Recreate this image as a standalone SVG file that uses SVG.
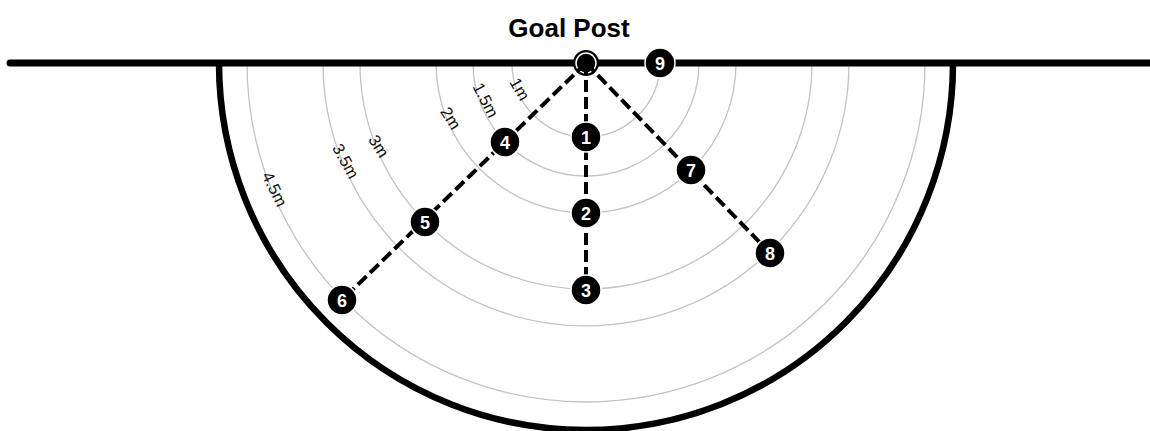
<svg xmlns="http://www.w3.org/2000/svg" width="1150" height="431" viewBox="0 0 1150 431">
<style>
.ring{fill:none;stroke:#c3c3c3;stroke-width:1.3}
.dist{font-family:"Liberation Sans",Arial,sans-serif;font-size:16.5px;fill:#111;text-anchor:middle;dominant-baseline:central}
.conn{fill:none;stroke:#000;stroke-width:4;stroke-dasharray:12 5}
.node circle{fill:#000;stroke:#fff;stroke-width:1.5}
.node text{font-family:"Liberation Sans",Arial,sans-serif;font-weight:bold;font-size:18px;fill:#fff;text-anchor:middle}
</style>
<rect width="1150" height="431" fill="#fff"/>
<g id="rings">
<path class="ring" d="M512 63 A74 74 0 0 0 660 63"/>
<path class="ring" d="M473 63 A113 113 0 0 0 699 63"/>
<path class="ring" d="M436 63 A150 150 0 0 0 736 63"/>
<path class="ring" d="M360 63 A226 226 0 0 0 812 63"/>
<path class="ring" d="M323 63 A263 263 0 0 0 849 63"/>
<path class="ring" d="M247 63 A339 339 0 0 0 925 63"/>
</g>
<g id="labels">
<text class="dist" transform="translate(520,89) rotate(60)">1m</text>
<text class="dist" transform="translate(486,100) rotate(63)">1.5m</text>
<text class="dist" transform="translate(451,118) rotate(58)">2m</text>
<text class="dist" transform="translate(379,146) rotate(58)">3m</text>
<text class="dist" transform="translate(346,161) rotate(61)">3.5m</text>
<text class="dist" transform="translate(275,189) rotate(64)">4.5m</text>
</g>
<g id="field">
<path d="M219 63 A367 367 0 0 0 953 63" fill="none" stroke="#000" stroke-width="6.5"/>
<line x1="10" y1="63" x2="1160" y2="63" stroke="#000" stroke-width="7" stroke-linecap="round"/>
</g>
<g id="goal-post">
<text x="569" y="37" font-family="'Liberation Sans',Arial,sans-serif" font-weight="bold" font-size="26" text-anchor="middle" fill="#000">Goal Post</text>
<circle cx="586" cy="63" r="13" fill="#000"/>
<circle cx="586" cy="63" r="10" fill="#000" stroke="#fff" stroke-width="1.5"/>
</g>
<g id="connectors">
<line class="conn" x1="586" y1="63" x2="342" y2="300"/>
<line class="conn" x1="586" y1="63" x2="586" y2="290"/>
<line class="conn" x1="586" y1="63" x2="770" y2="253"/>
</g>
<g id="node-1" class="node"><circle cx="586" cy="137" r="15"/><text x="586" y="143.5">1</text></g>
<g id="node-2" class="node"><circle cx="586" cy="213" r="15"/><text x="586" y="219.5">2</text></g>
<g id="node-3" class="node"><circle cx="586" cy="290" r="15"/><text x="586" y="296.5">3</text></g>
<g id="node-4" class="node"><circle cx="505" cy="142" r="15"/><text x="505" y="148.5">4</text></g>
<g id="node-5" class="node"><circle cx="425" cy="222" r="15"/><text x="425" y="228.5">5</text></g>
<g id="node-6" class="node"><circle cx="342" cy="300" r="15"/><text x="342" y="306.5">6</text></g>
<g id="node-7" class="node"><circle cx="691" cy="170" r="15"/><text x="691" y="176.5">7</text></g>
<g id="node-8" class="node"><circle cx="770" cy="253" r="15"/><text x="770" y="259.5">8</text></g>
<g id="node-9" class="node"><circle cx="660" cy="63" r="15"/><text x="660" y="69.5">9</text></g>
</svg>
